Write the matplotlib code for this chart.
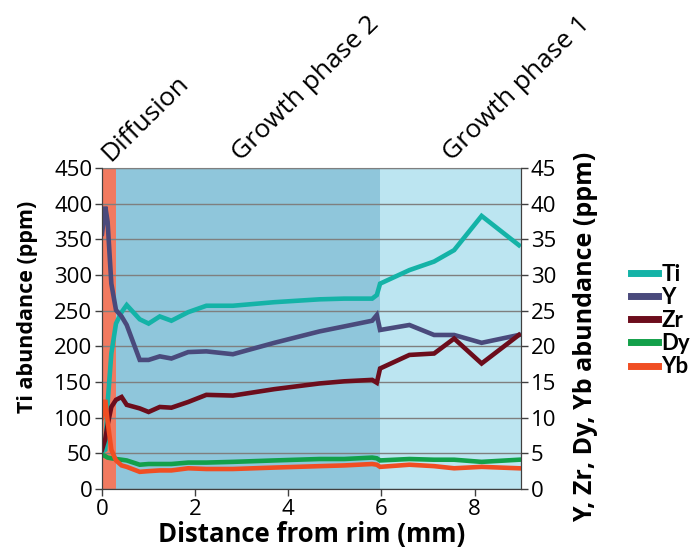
import matplotlib
matplotlib.use("Agg")
import matplotlib.pyplot as plt
import matplotlib.transforms as mtransforms
from matplotlib.lines import Line2D

plt.rcParams["font.family"] = ["Open Sans", "DejaVu Sans"]

# distance from rim (mm) of each analysed spot
dist = [0.0, 0.07, 0.12, 0.2, 0.3, 0.42, 0.53, 0.81, 1.0, 1.24, 1.49, 1.85, 2.24,
        2.81, 3.7, 4.67, 5.2, 5.8, 5.9, 5.97, 6.6, 7.13, 7.56, 8.15, 8.95]

# Ti on left axis (ppm)
ti = [52, 55, 120, 190, 232, 248, 258, 238, 232, 242, 236, 248, 257,
      257, 262, 266, 267, 267, 272, 288, 307, 319, 335, 383, 342]

# the rest on right axis (ppm)
y_el = [35.8, 39.6, 37.5, 28.8, 25.1, 24.2, 23.0, 18.1, 18.1, 18.6, 18.3, 19.2, 19.3,
        18.9, 20.5, 22.1, 22.8, 23.6, 24.4, 22.3, 23.0, 21.6, 21.6, 20.5, 21.6]
zr = [5.5, 7.0, 9.0, 11.5, 12.5, 12.9, 11.8, 11.3, 10.8, 11.5, 11.4, 12.2, 13.2,
      13.1, 14.0, 14.8, 15.1, 15.3, 14.9, 16.9, 18.8, 19.0, 21.1, 17.6, 21.6]
dy = [4.8, 4.6, 4.4, 4.3, 4.2, 4.1, 4.0, 3.4, 3.5, 3.5, 3.5, 3.7, 3.7,
      3.8, 4.0, 4.2, 4.2, 4.4, 4.3, 4.0, 4.2, 4.1, 4.1, 3.8, 4.1]
yb = [10.0, 12.5, 9.5, 5.5, 4.0, 3.3, 3.1, 2.4, 2.5, 2.6, 2.6, 2.9, 2.8,
      2.8, 3.0, 3.2, 3.3, 3.5, 3.4, 3.1, 3.4, 3.2, 2.9, 3.1, 2.9]

# zone boundaries (mm) and names
zone_edges = [0.0, 0.3, 5.97, 9.0]
zone_names = ["Diffusion", "Growth phase 2", "Growth phase 1"]
zone_colors = ["#f17a60", "#8fc6db", "#bce5f1"]
zone_label_x = [0.19, 2.97, 7.5]

fig = plt.figure(figsize=(6.94, 5.55), dpi=100)
ax = fig.add_axes([0.147, 0.119, 0.604, 0.578])
ax2 = ax.twinx()

for i in range(3):
    ax.axvspan(zone_edges[i], zone_edges[i + 1], color=zone_colors[i], lw=0, zorder=0)

ax.set_xlim(0, 9)
ax.set_ylim(0, 450)
ax2.set_ylim(0, 45)
ax.set_yticks(range(0, 451, 50))
ax2.set_yticks(range(0, 46, 5))
ax.set_xticks([0, 2, 4, 6, 8])
ax.yaxis.grid(True, color="#7f7f7f", lw=1)
ax.set_axisbelow(True)
for sp in ax.spines.values():
    sp.set_color("#404040")
for sp in ax2.spines.values():
    sp.set_color("#404040")
ax.spines["top"].set_color("#7f7f7f")
ax2.spines["top"].set_visible(False)

lw = 3.3
ax.plot(dist, ti, color="#14b3a7", lw=lw, zorder=3, solid_joinstyle="miter")
ax2.plot(dist, y_el, color="#4a4a7c", lw=lw, solid_joinstyle="miter")
ax2.plot(dist, zr, color="#6c0d1c", lw=lw, solid_joinstyle="miter")
ax2.plot(dist, dy, color="#13a04a", lw=lw, solid_joinstyle="miter")
ax2.plot(dist, yb, color="#f04e23", lw=lw, solid_joinstyle="miter")

ax.tick_params(labelsize=16, color="#404040", length=5, width=1, pad=2)
ax2.tick_params(labelsize=16, color="#404040", length=5, width=1, pad=2)
ax.set_xlabel("Distance from rim (mm)", fontsize=18.5, fontweight="bold", labelpad=1)
ax.set_ylabel("Ti abundance (ppm)", fontsize=15.5, fontweight="bold")
ax.yaxis.set_label_coords(-0.153, 0.567)
ax2.set_ylabel("Y, Zr, Dy, Yb abundance (ppm)", fontsize=18, fontweight="bold")
ax2.yaxis.set_label_coords(1.124, 0.474)

trans = mtransforms.blended_transform_factory(ax.transData, ax.transAxes)
for name, xl in zip(zone_names, zone_label_x):
    ax.text(xl, 1.02, name, transform=trans, rotation=44.5, rotation_mode="anchor",
            ha="left", va="baseline", fontsize=19)

handles = [Line2D([], [], color=c, lw=5) for c in
           ["#14b3a7", "#4a4a7c", "#6c0d1c", "#13a04a", "#f04e23"]]
fig.legend(handles, ["Ti", "Y", "Zr", "Dy", "Yb"], loc="center left",
           bbox_to_anchor=(0.881, 0.4225), frameon=False, handlelength=1.2,
           handletextpad=0.15, labelspacing=0.1,
           prop={"size": 16, "weight": "bold", "family": "Lato"})

fig.savefig("out.png", dpi=100)
